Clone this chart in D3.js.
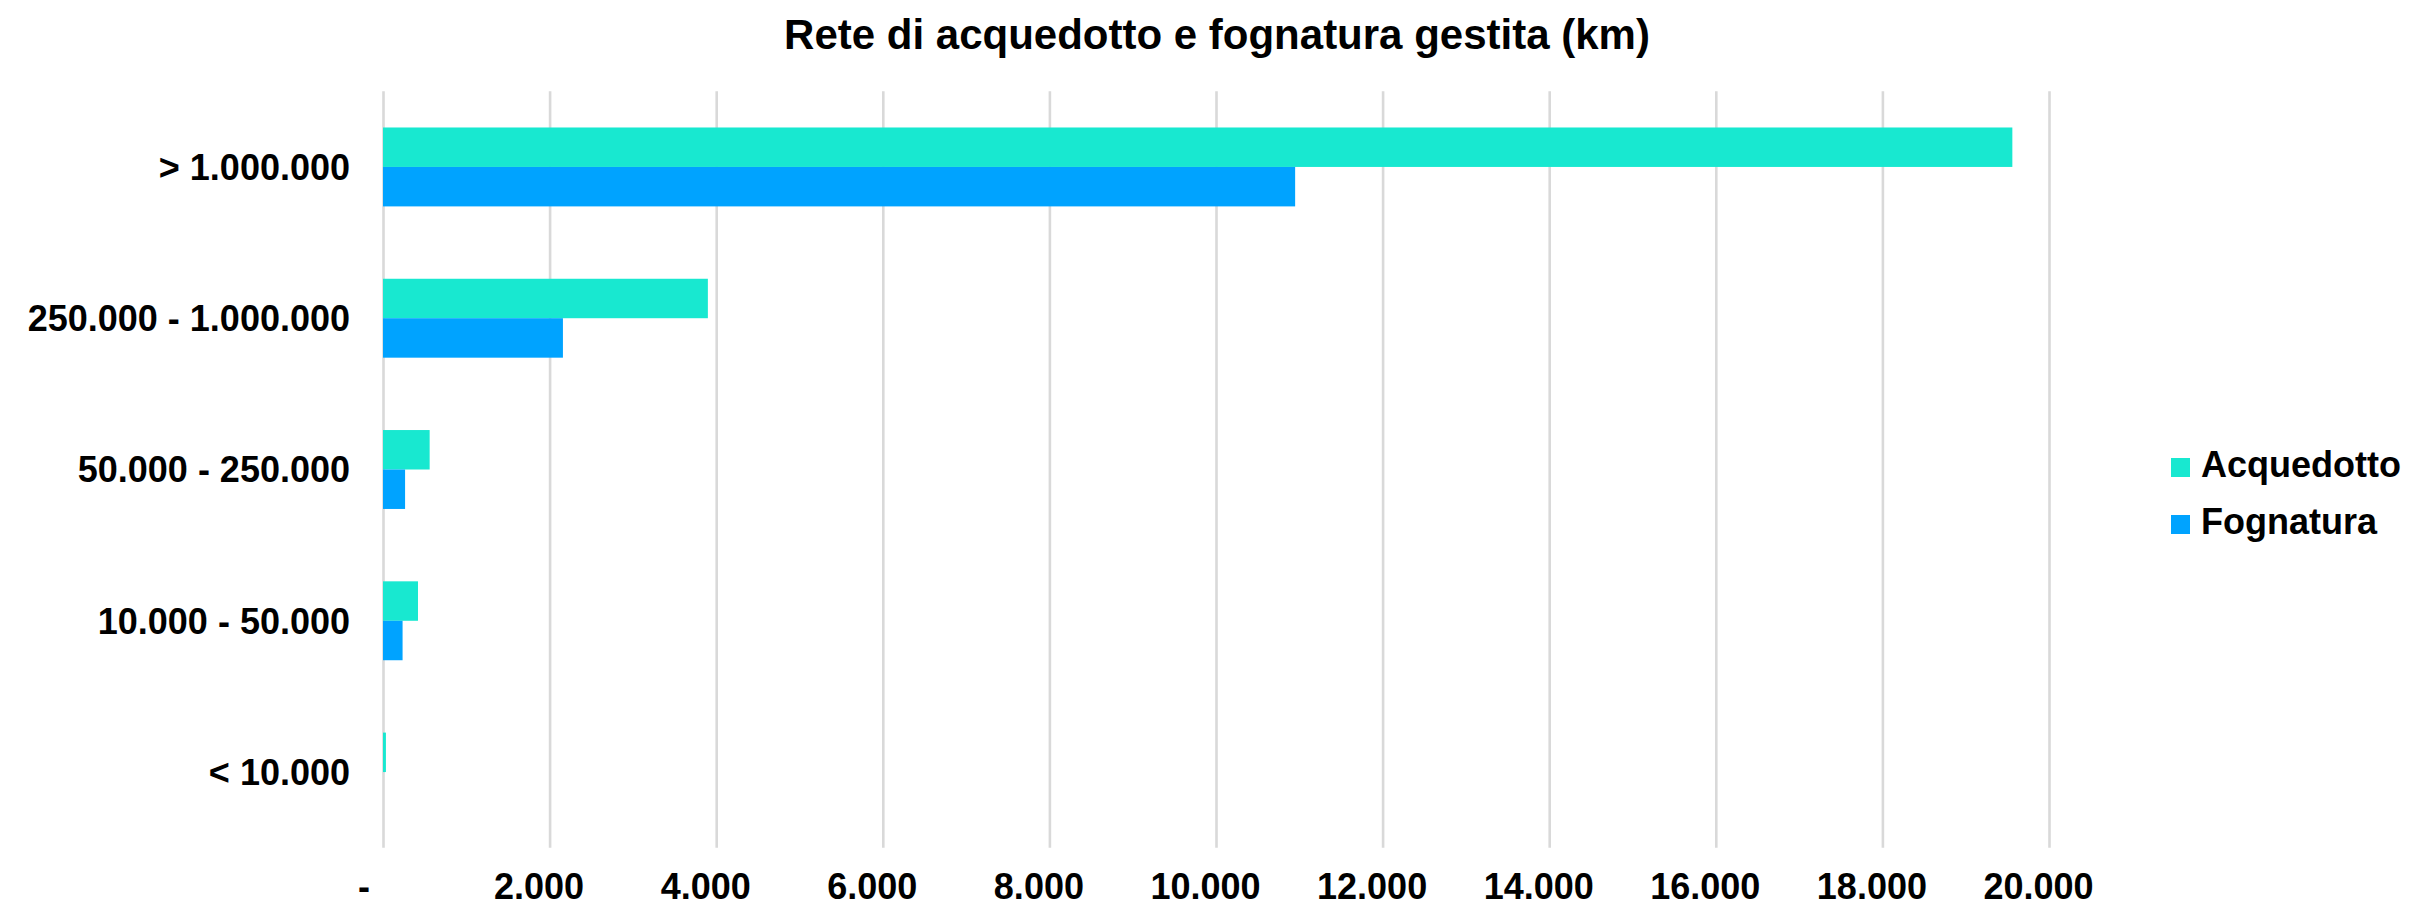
<!DOCTYPE html>
<html>
<head>
<meta charset="utf-8">
<script src="https://cdn.jsdelivr.net/npm/d3@7"></script>
<style>
  html, body { margin: 0; padding: 0; background: #fff; }
  svg { display: block; }
  text { font-family: "Liberation Sans", Arial, sans-serif; font-weight: bold; fill: #000; }
</style>
</head>
<body>
<svg id="chart" width="2412" height="907"></svg>
<script>
// ---- data ----
const title = "Rete di acquedotto e fognatura gestita (km)";
const categories = ["> 1.000.000", "250.000 - 1.000.000", "50.000 - 250.000", "10.000 - 50.000", "< 10.000"];
const seriesNames = ["Acquedotto", "Fognatura"];
const acquedotto = [19560, 3900, 560, 420, 35];
const fognatura = [10950, 2160, 265, 235, 0];
const xTicks = [0, 2000, 4000, 6000, 8000, 10000, 12000, 14000, 16000, 18000, 20000];
const seriesColors = ["#18E8D0", "#00A3FF"];

// ---- layout ----
const W = 2412, H = 907;
const plot = { left: 383, right: 2049, top: 91.3, bottom: 847.7 };

const svg = d3.select("#chart");

const x = d3.scaleLinear().domain([0, 20000]).range([plot.left, plot.right]);
const y = d3.scaleBand().domain(categories).range([plot.top, plot.bottom]).padding(0);
const ySub = d3.scaleBand().domain(seriesNames).range([0, y.bandwidth()])
  .paddingInner(0).paddingOuter(0.917);
const color = d3.scaleOrdinal().domain(seriesNames).range(seriesColors);

const locale = d3.formatLocale({ decimal: ",", thousands: ".", grouping: [3], currency: ["€", ""] });
const fmt = locale.format(",d");

// gridlines
const grid = svg.append("g").attr("transform", `translate(0,${plot.bottom})`)
  .call(d3.axisBottom(x).tickValues(xTicks).tickSize(-(plot.bottom - plot.top)).tickFormat(""));
grid.select(".domain").remove();
grid.selectAll(".tick line").attr("stroke", "#d9d9d9").attr("stroke-width", 2.6);

// bars
const rows = categories.map((c, i) => ({ cat: c, values: [
  { s: seriesNames[0], v: acquedotto[i] },
  { s: seriesNames[1], v: fognatura[i] }
]}));

const groups = svg.append("g").selectAll("g").data(rows).join("g")
  .attr("transform", d => `translate(0,${y(d.cat)})`);
groups.selectAll("rect").data(d => d.values).join("rect")
  .attr("x", x(0))
  .attr("y", d => ySub(d.s))
  .attr("width", d => x(d.v) - x(0))
  .attr("height", ySub.bandwidth())
  .attr("fill", d => color(d.s));

// x axis labels
const xAxis = svg.append("g").attr("transform", `translate(0,${plot.bottom})`)
  .call(d3.axisBottom(x).tickValues(xTicks).tickSize(0).tickFormat(d => d === 0 ? "-" : fmt(d)));
xAxis.select(".domain").remove();
xAxis.selectAll(".tick text")
  .attr("y", 51).attr("dy", 0)
  .attr("dx", d => d === 0 ? -19.5 : -11)
  .style("font-size", "36px");

// y axis labels
const yAxis = svg.append("g").attr("transform", `translate(${plot.left},0)`)
  .call(d3.axisLeft(y).tickSize(0).tickPadding(33));
yAxis.select(".domain").remove();
yAxis.selectAll(".tick text").attr("dy", "0.36em").style("font-size", "36px");

// title
svg.append("text").attr("x", 1217).attr("y", 49).attr("text-anchor", "middle")
  .style("font-size", "42px").text(title);

// legend
const legend = svg.append("g").selectAll("g").data(seriesNames).join("g")
  .attr("transform", (d, i) => `translate(2171,${477 + i * 57})`);
legend.append("rect").attr("x", 0).attr("y", -19).attr("width", 19).attr("height", 19)
  .attr("fill", d => color(d));
legend.append("text").attr("x", 30).attr("y", 0).style("font-size", "36px").text(d => d);
</script>
</body>
</html>
